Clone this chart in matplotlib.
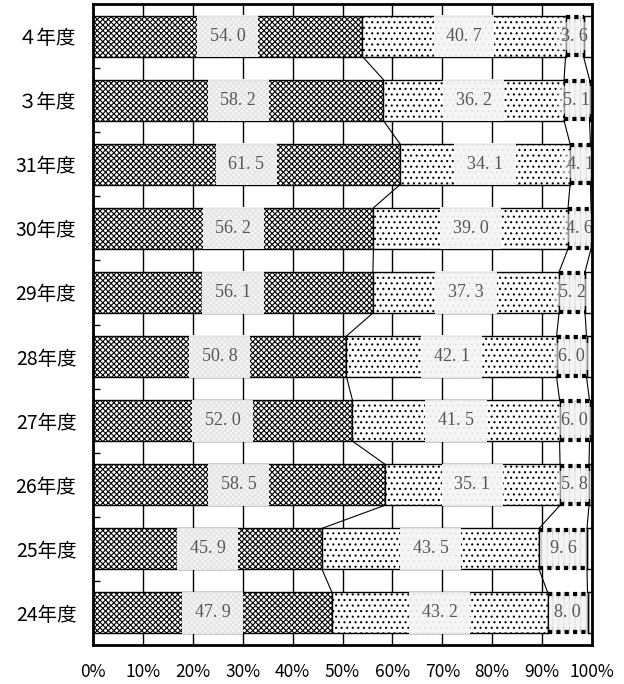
import matplotlib
matplotlib.use("Agg")
import matplotlib.pyplot as plt
import numpy as np

categories = ["24年度", "25年度", "26年度", "27年度", "28年度",
              "29年度", "30年度", "31年度", "３年度", "４年度"]
seg1 = [47.9, 45.9, 58.5, 52.0, 50.8, 56.1, 56.2, 61.5, 58.2, 54.0]
seg2 = [43.2, 43.5, 35.1, 41.5, 42.1, 37.3, 39.0, 34.1, 36.2, 40.7]
seg3 = [8.0, 9.6, 5.8, 6.0, 6.0, 5.2, 4.6, 4.1, 5.1, 3.6]
xticks = [0, 10, 20, 30, 40, 50, 60, 70, 80, 90, 100]

plt.rcParams['font.family'] = ['Noto Sans CJK JP', 'DejaVu Sans']
plt.rcParams['hatch.linewidth'] = 0.8

fig = plt.figure(figsize=(6.24, 6.84), dpi=100)
ax = fig.add_axes([93/624, 1-645/684, 499/624, 641/684])

y = np.arange(len(categories))
s1 = np.array(seg1); s2 = np.array(seg2); s3 = np.array(seg3)
c1 = s1; c2 = s1 + s2; c3 = c2 + s3
h = 0.64

# grid behind
for xv in xticks:
    ax.axvline(xv, color='black', lw=1.0, zorder=0)

# segment 1
ax.barh(y, s1, height=h, left=0, facecolor='white', edgecolor='black',
        hatch='xxxxxx', lw=1.0, zorder=2)
# segment 2
ax.barh(y, s2, height=h, left=c1, facecolor='white', edgecolor='black',
        hatch='...', lw=1.0, zorder=2)
# segment 3: gray vertical stripes
ax.barh(y, s3, height=h, left=c2, facecolor='#f4f4f4', edgecolor='#c8c8c8',
        hatch='|||', lw=0, zorder=2)
# remainder
ax.barh(y, 100 - c3, height=h, left=c3, facecolor='white', edgecolor='black',
        lw=1.0, zorder=2)
for i in range(len(y)):
    for yy in (y[i] - h/2 + 0.02, y[i] + h/2 - 0.02):
        ax.plot([c2[i], c3[i]], [yy, yy], color='black', lw=3.0,
                dashes=(1.0, 1.0), solid_capstyle='butt',
                dash_capstyle='butt', zorder=3)
    ax.plot([c3[i], c3[i]], [y[i] - h/2, y[i] + h/2], color='black', lw=1.0,
            zorder=3)
    ax.plot([c2[i], c2[i]], [y[i] - h/2, y[i] + h/2], color='black', lw=1.0,
            zorder=3)

# connecting lines
for i in range(1, len(y)):
    for cum in (c1, c2, c3):
        ax.plot([cum[i], cum[i-1]], [y[i] - h/2, y[i-1] + h/2],
                color='black', lw=0.8, zorder=3)

def fmt(v):
    return f"{v:.1f}".replace('.', '. ')

box = dict(boxstyle='square,pad=0.7', facecolor='#f5f5f5', edgecolor='none', alpha=0.93)
for i in range(len(y)):
    ax.text(c1[i] / 2, y[i], fmt(s1[i]), ha='center', va='center',
            fontsize=13, color='#555555', family=['Liberation Serif'],
            bbox=box, zorder=4)
    ax.text(c1[i] + s2[i] / 2, y[i], fmt(s2[i]), ha='center', va='center',
            fontsize=13, color='#555555', family=['Liberation Serif'],
            bbox=box, zorder=4)
    ax.text(c2[i] + s3[i] / 2, y[i], fmt(s3[i]), ha='center', va='center',
            fontsize=13, color='#555555', family=['Liberation Serif'],
            bbox=dict(boxstyle='square,pad=0.3', facecolor='#f5f5f5',
                      edgecolor='none', alpha=0.6), zorder=4)

ax.set_xlim(0, 100)
ax.set_ylim(-0.5, len(y) - 0.5)
ax.set_xticks(xticks)
ax.set_xticklabels([f"{v}%" for v in xticks], fontsize=12.5)
ax.set_yticks(y)
ax.set_yticklabels(categories, fontsize=14)
ax.set_yticks(np.arange(0.5, len(y) - 0.5, 1), minor=True)
ax.tick_params(axis='y', which='major', length=0, pad=12)
ax.tick_params(axis='y', which='minor', length=5, direction='in', width=1)
ax.tick_params(axis='x', length=0, pad=13)
for sp in ax.spines.values():
    sp.set_linewidth(2.0)
    sp.set_zorder(5)

fig.savefig("out.png", dpi=100)
